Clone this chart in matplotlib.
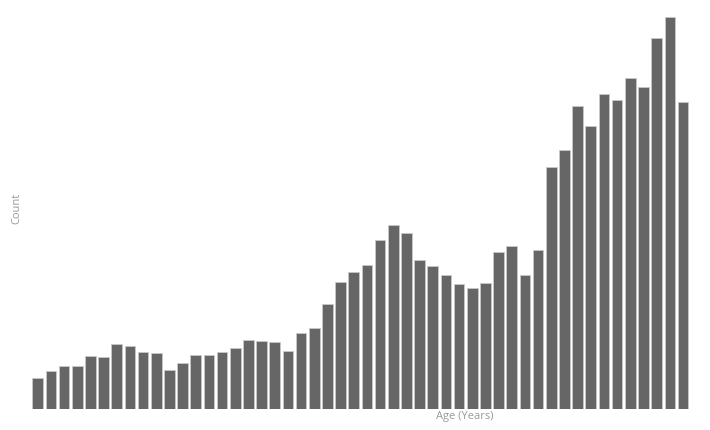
import matplotlib.pyplot as plt
import numpy as np

# bar heights (no axis scale shown)
counts = [31, 38, 43, 43, 53, 52, 65, 63, 57, 56,
          39, 46, 54, 54, 57, 61, 69, 68, 67, 58,
          76, 81, 105, 127, 137, 144, 169, 184, 176, 149,
          143, 134, 125, 121, 126, 157, 163, 134, 159, 242,
          259, 303, 283, 315, 309, 331, 322, 371, 392, 307]
positions = np.arange(len(counts))

fig = plt.figure(figsize=(7.1, 4.3), dpi=100)
ax = fig.add_axes([31.1 / 710, 21 / 430, 658.5 / 710, 392 / 430])

ax.bar(positions, counts, width=0.81, color='#666666', edgecolor='#c8c8c8', linewidth=0.6)
ax.set_xlim(-0.5, len(counts) - 0.5)
ax.set_ylim(0, 392)
ax.axis('off')

fig.text(465 / 710, 1 - 416 / 430, 'Age (Years)', ha='center', va='center',
         fontsize=8, color='#999999', family='Open Sans')
fig.text(17 / 710, 1 - 208 / 430, 'Count', ha='center', va='center', rotation=90,
         fontsize=8, color='#999999', family='Open Sans')

fig.savefig('out.png', dpi=100)
